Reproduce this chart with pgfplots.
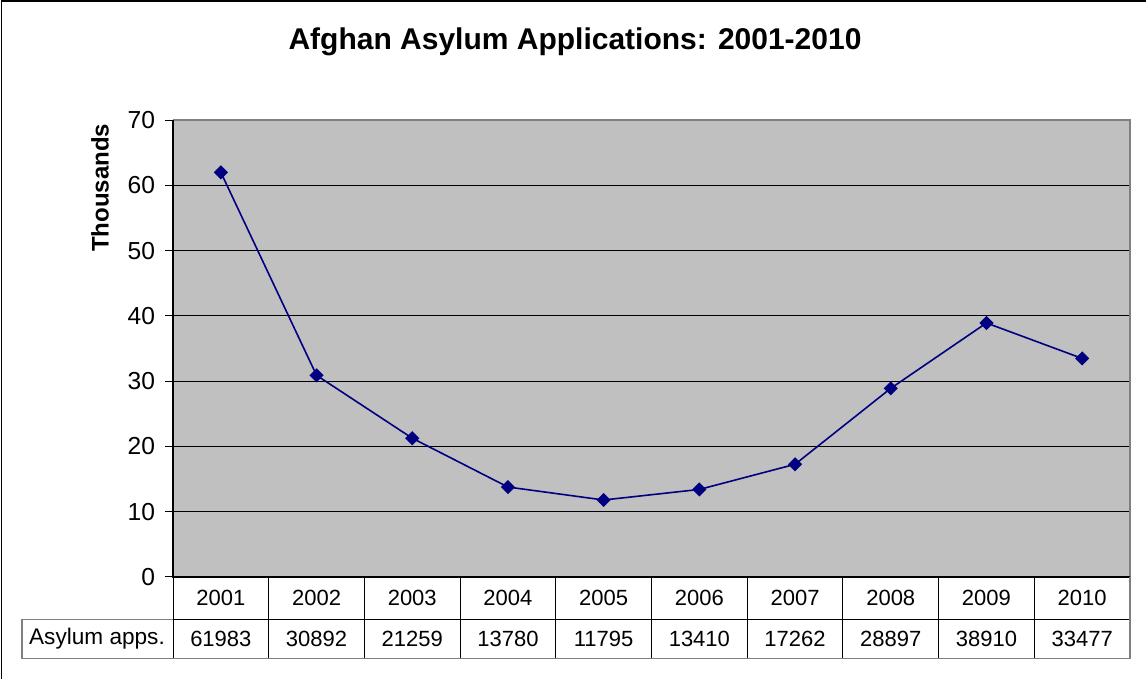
\documentclass[border=0pt]{standalone}
\usepackage{pgfplots}
\pgfplotsset{compat=1.18}
\usepackage{fontspec}
\setmainfont{Liberation Sans}
\definecolor{bggray}{HTML}{C0C0C0}
\definecolor{navy}{HTML}{000080}
\definecolor{edgegray}{HTML}{808080}
\begin{document}
\begin{tikzpicture}
\begin{axis}[
  at={(86.5pt,51pt)}, anchor=south west, scale only axis,
  width=478.5pt, height=228.5pt,
  xmin=0.5, xmax=10.5, ymin=0, ymax=70,
  ytick={0,10,...,70}, xtick=\empty, ytick pos=left,
  axis background/.style={fill=bggray},
  ymajorgrids, grid style={black, line width=0.5pt},
  axis line style={draw=none},
  tick align=outside, major tick length=4pt,
  tick style={black, line width=0.5pt},
  /pgf/number format/assume math mode=true,
  yticklabel style={font=\fontsize{12.3}{14}\selectfont, xshift=-1.5pt},
  clip=false,
]
\addplot[navy, line width=0.8pt, mark=square*, mark size=2.1pt,
  mark options={rotate=45, fill=navy, draw=navy}]
  coordinates {(1,61.983) (2,30.892) (3,21.259) (4,13.780) (5,11.795)
               (6,13.410) (7,17.262) (8,28.897) (9,38.910) (10,33.477)};
\draw[edgegray, line width=1pt] (rel axis cs:0,1) -- (rel axis cs:1,1) -- (rel axis cs:1,0);
\draw[black, line width=0.6pt] (rel axis cs:0,1) -- (rel axis cs:0,0) -- (rel axis cs:1,0);
\end{axis}
\begin{scope}[x=0.5pt,y=-0.5pt,shift={(0pt,339.5pt)}]
\path[use as bounding box] (0,0) rectangle (1146,679);
\draw[line width=0.9pt] (1.5,679) -- (1.5,0.9) -- (1146,0.9);
\node[font=\bfseries\fontsize{15}{18}\selectfont] at (575,42) {Afghan Asylum Applications: 2001-2010};
\node[rotate=90,font=\bfseries\fontsize{12}{14}\selectfont] at (100,188) {Thousands};
% data table
\draw[edgegray, line width=0.6pt] (22,619.3) -- (173,619.3);
\draw[black, line width=0.5pt] (173,619.3) -- (1130,619.3);
\foreach \i in {1,...,9} {
  \draw[black, line width=0.5pt] ({173+95.7*\i},577) -- ({173+95.7*\i},658.5);
}
\draw[black, line width=0.5pt] (173,577) -- (173,658.5);
\draw[edgegray, line width=0.6pt] (22,619.3) -- (22,658.5) -- (1130,658.5) -- (1130,577);
\node[font=\fontsize{11.3}{13}\selectfont] at (97,639) {Asylum apps.};
\foreach \yr/\v [count=\i] in {2001/61983,2002/30892,2003/21259,2004/13780,2005/11795,2006/13410,2007/17262,2008/28897,2009/38910,2010/33477} {
  \node[font=\fontsize{11}{13}\selectfont] at ({173+95.7*(\i-0.5)},598) {\yr};
  \node[font=\fontsize{11}{13}\selectfont] at ({173+95.7*(\i-0.5)},639) {\v};
}
\end{scope}
\end{tikzpicture}
\end{document}
